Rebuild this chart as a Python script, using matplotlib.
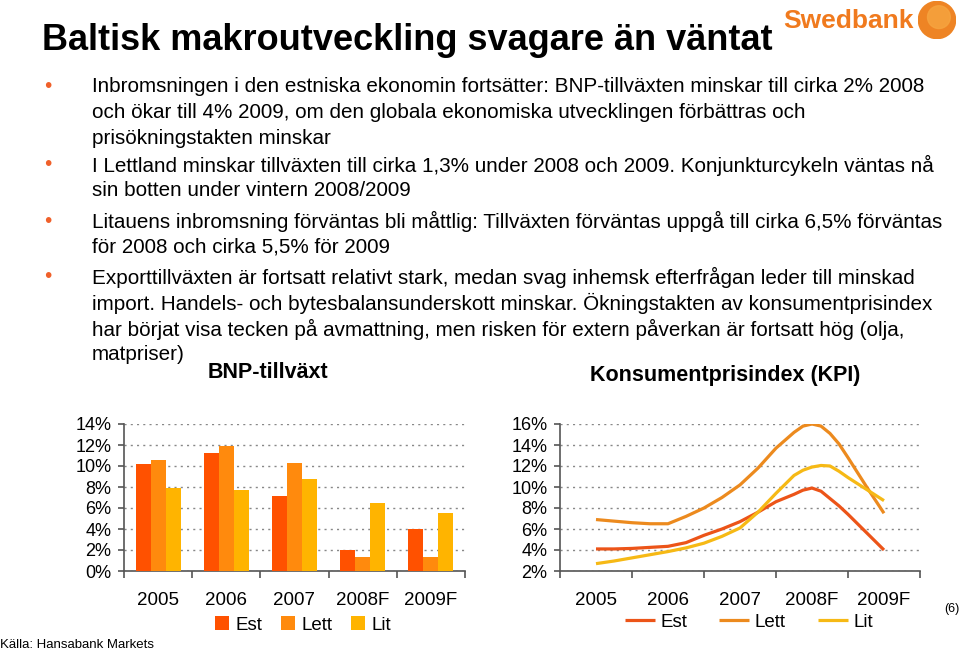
import numpy as np
import matplotlib
matplotlib.use('Agg')
import matplotlib.pyplot as plt
from matplotlib.patches import Circle

plt.rcParams['font.family'] = ['Liberation Sans', 'DejaVu Sans']

# data
years = ['2005', '2006', '2007', '2008F', '2009F']
countries = ['Est', 'Lett', 'Lit']
bnp_est = [10.2, 11.2, 7.1, 2.0, 4.0]
bnp_lett = [10.6, 11.9, 10.3, 1.3, 1.3]
bnp_lit = [7.9, 7.7, 8.8, 6.5, 5.5]

# KPI (0 = 2005 ... 4 = 2009F)
kpi_t = [0, 0.25, 0.5, 0.75, 1, 1.25, 1.5, 1.75, 2, 2.25, 2.5, 2.75, 2.875, 3, 3.125, 3.25, 3.375, 3.5, 3.75, 4]
kpi_est = [4.1, 4.1, 4.15, 4.25, 4.35, 4.7, 5.4, 6.0, 6.7, 7.6, 8.6, 9.3, 9.7, 9.9, 9.6, 8.9, 8.2, 7.4, 5.7, 4.0]
kpi_lett = [6.9, 6.75, 6.6, 6.5, 6.5, 7.2, 8.0, 9.0, 10.2, 11.8, 13.7, 15.2, 15.8, 16.0, 15.8, 15.1, 14.1, 12.8, 10.1, 7.5]
kpi_lit = [2.7, 2.95, 3.25, 3.55, 3.85, 4.2, 4.65, 5.3, 6.1, 7.6, 9.4, 11.1, 11.6, 11.9, 12.05, 12.0, 11.5, 10.9, 9.8, 8.7]

bar_colors = ['#FF5100', '#FF8A0D', '#FFB400']
line_colors = ['#EC5418', '#EC8A1E', '#F6B915']
bullet_col = '#F0602A'

paragraphs = [
    ["Inbromsningen i den estniska ekonomin fortsätter: BNP-tillväxten minskar till cirka 2% 2008",
     "och ökar till 4% 2009, om den globala ekonomiska utvecklingen förbättras och",
     "prisökningstakten minskar"],
    ["I Lettland minskar tillväxten till cirka 1,3% under 2008 och 2009. Konjunkturcykeln väntas nå",
     "sin botten under vintern 2008/2009"],
    ["Litauens inbromsning förväntas bli måttlig: Tillväxten förväntas uppgå till cirka 6,5% förväntas",
     "för 2008 och cirka 5,5% för 2009"],
    ["Exporttillväxten är fortsatt relativt stark, medan svag inhemsk efterfrågan leder till minskad",
     "import. Handels- och bytesbalansunderskott minskar. Ökningstakten av konsumentprisindex",
     "har börjat visa tecken på avmattning, men risken för extern påverkan är fortsatt hög (olja,",
     "matpriser)"],
]
para_top = [87, 165, 221, 277]  # pixel rows of first line

W, H = 960, 651
fig = plt.figure(figsize=(9.6, 6.51), dpi=100)

def fx(px):
    return px / W
def fy(py):
    return 1 - py / H

fig.text(fx(42), fy(41), 'Baltisk makroutveckling svagare än väntat', fontsize=26,
         fontweight='bold', va='center', ha='left')

# logo
fig.text(fx(783), fy(21), 'Swedbank', fontsize=19, fontweight='bold', color='#F07A1E',
         va='center', ha='left')
ax_logo = fig.add_axes([fx(918), fy(39), fx(38), 38 / H])
ax_logo.set_xlim(-1, 1); ax_logo.set_ylim(-1, 1); ax_logo.axis('off')
ax_logo.add_patch(Circle((0, 0), 0.98, color='#EE8424'))
ax_logo.add_patch(Circle((0.1, 0.15), 0.6, color='#F6A540', alpha=0.8))

for lines, top in zip(paragraphs, para_top):
    fig.text(fx(48), fy(top), '•', color=bullet_col, fontsize=15, va='center', ha='center')
    for k, ln in enumerate(lines):
        fig.text(fx(92), fy(top + 26 * k), ln, fontsize=14.9, va='center', ha='left')

fig.text(fx(268), fy(372), 'BNP-tillväxt', fontsize=15.5, fontweight='bold', va='center', ha='center')
fig.text(fx(725), fy(376), 'Konsumentprisindex (KPI)', fontsize=15.5, fontweight='bold',
         va='center', ha='center')

def style_axes(ax):
    for s in ['top', 'right']:
        ax.spines[s].set_visible(False)
    for s in ['left', 'bottom']:
        ax.spines[s].set_color('#555555')
        ax.spines[s].set_linewidth(1.2)
    ax.set_xlim(0, 5)
    ax.set_xticks(range(6))
    ax.set_xticklabels([])
    ax.set_xticks(np.arange(5) + 0.5, minor=True)
    ax.set_xticklabels(years, minor=True, fontsize=13.5)
    ax.tick_params(axis='x', which='major', length=5, color='#555555', width=1.2)
    ax.tick_params(axis='x', which='minor', length=0, pad=15)
    ax.tick_params(axis='y', length=4, color='#555555', width=1.2, labelsize=13, pad=5)
    ax.yaxis.grid(True, linestyle=(0, (1.5, 3)), color='#888888', linewidth=1.0)
    ax.set_axisbelow(True)

# bar chart
ax1 = fig.add_axes([fx(124), fy(571), fx(465 - 124), (571 - 424) / H])
xc = np.arange(5) + 0.5
bw = 0.22
for i, vals in enumerate([bnp_est, bnp_lett, bnp_lit]):
    ax1.bar(xc + (i - 1) * bw, vals, width=bw, color=bar_colors[i], label=countries[i], zorder=3)
ax1.set_ylim(0, 14)
ax1.set_yticks(range(0, 15, 2))
ax1.set_yticklabels([f'{v}%' for v in range(0, 15, 2)])
style_axes(ax1)
ax1.legend(loc='center', bbox_to_anchor=(fx(303), fy(625)), bbox_transform=fig.transFigure,
           ncol=3, frameon=False, fontsize=13.5, handlelength=0.75, handleheight=0.75,
           handletextpad=0.35, columnspacing=1.0)

# line chart
ax2 = fig.add_axes([fx(560), fy(571), fx(920 - 560), (571 - 424) / H])
tx = np.array(kpi_t) + 0.5
for i, vals in enumerate([kpi_est, kpi_lett, kpi_lit]):
    ax2.plot(tx, vals, color=line_colors[i], lw=2.3, label=countries[i], zorder=3,
             solid_capstyle='butt', solid_joinstyle='round')
ax2.set_ylim(2, 16)
ax2.set_yticks(range(2, 17, 2))
ax2.set_yticklabels([f'{v}%' for v in range(2, 17, 2)])
style_axes(ax2)
ax2.legend(loc='center', bbox_to_anchor=(fx(749), fy(622)), bbox_transform=fig.transFigure,
           ncol=3, frameon=False, fontsize=13.5, handlelength=1.6, handletextpad=0.3,
           columnspacing=1.7)

fig.text(fx(952), fy(609), '(6)', fontsize=9, va='center', ha='center')
fig.text(fx(0), fy(645), 'Källa: Hansabank Markets', fontsize=9.5, va='center', ha='left')

fig.savefig('out.png', dpi=100)
